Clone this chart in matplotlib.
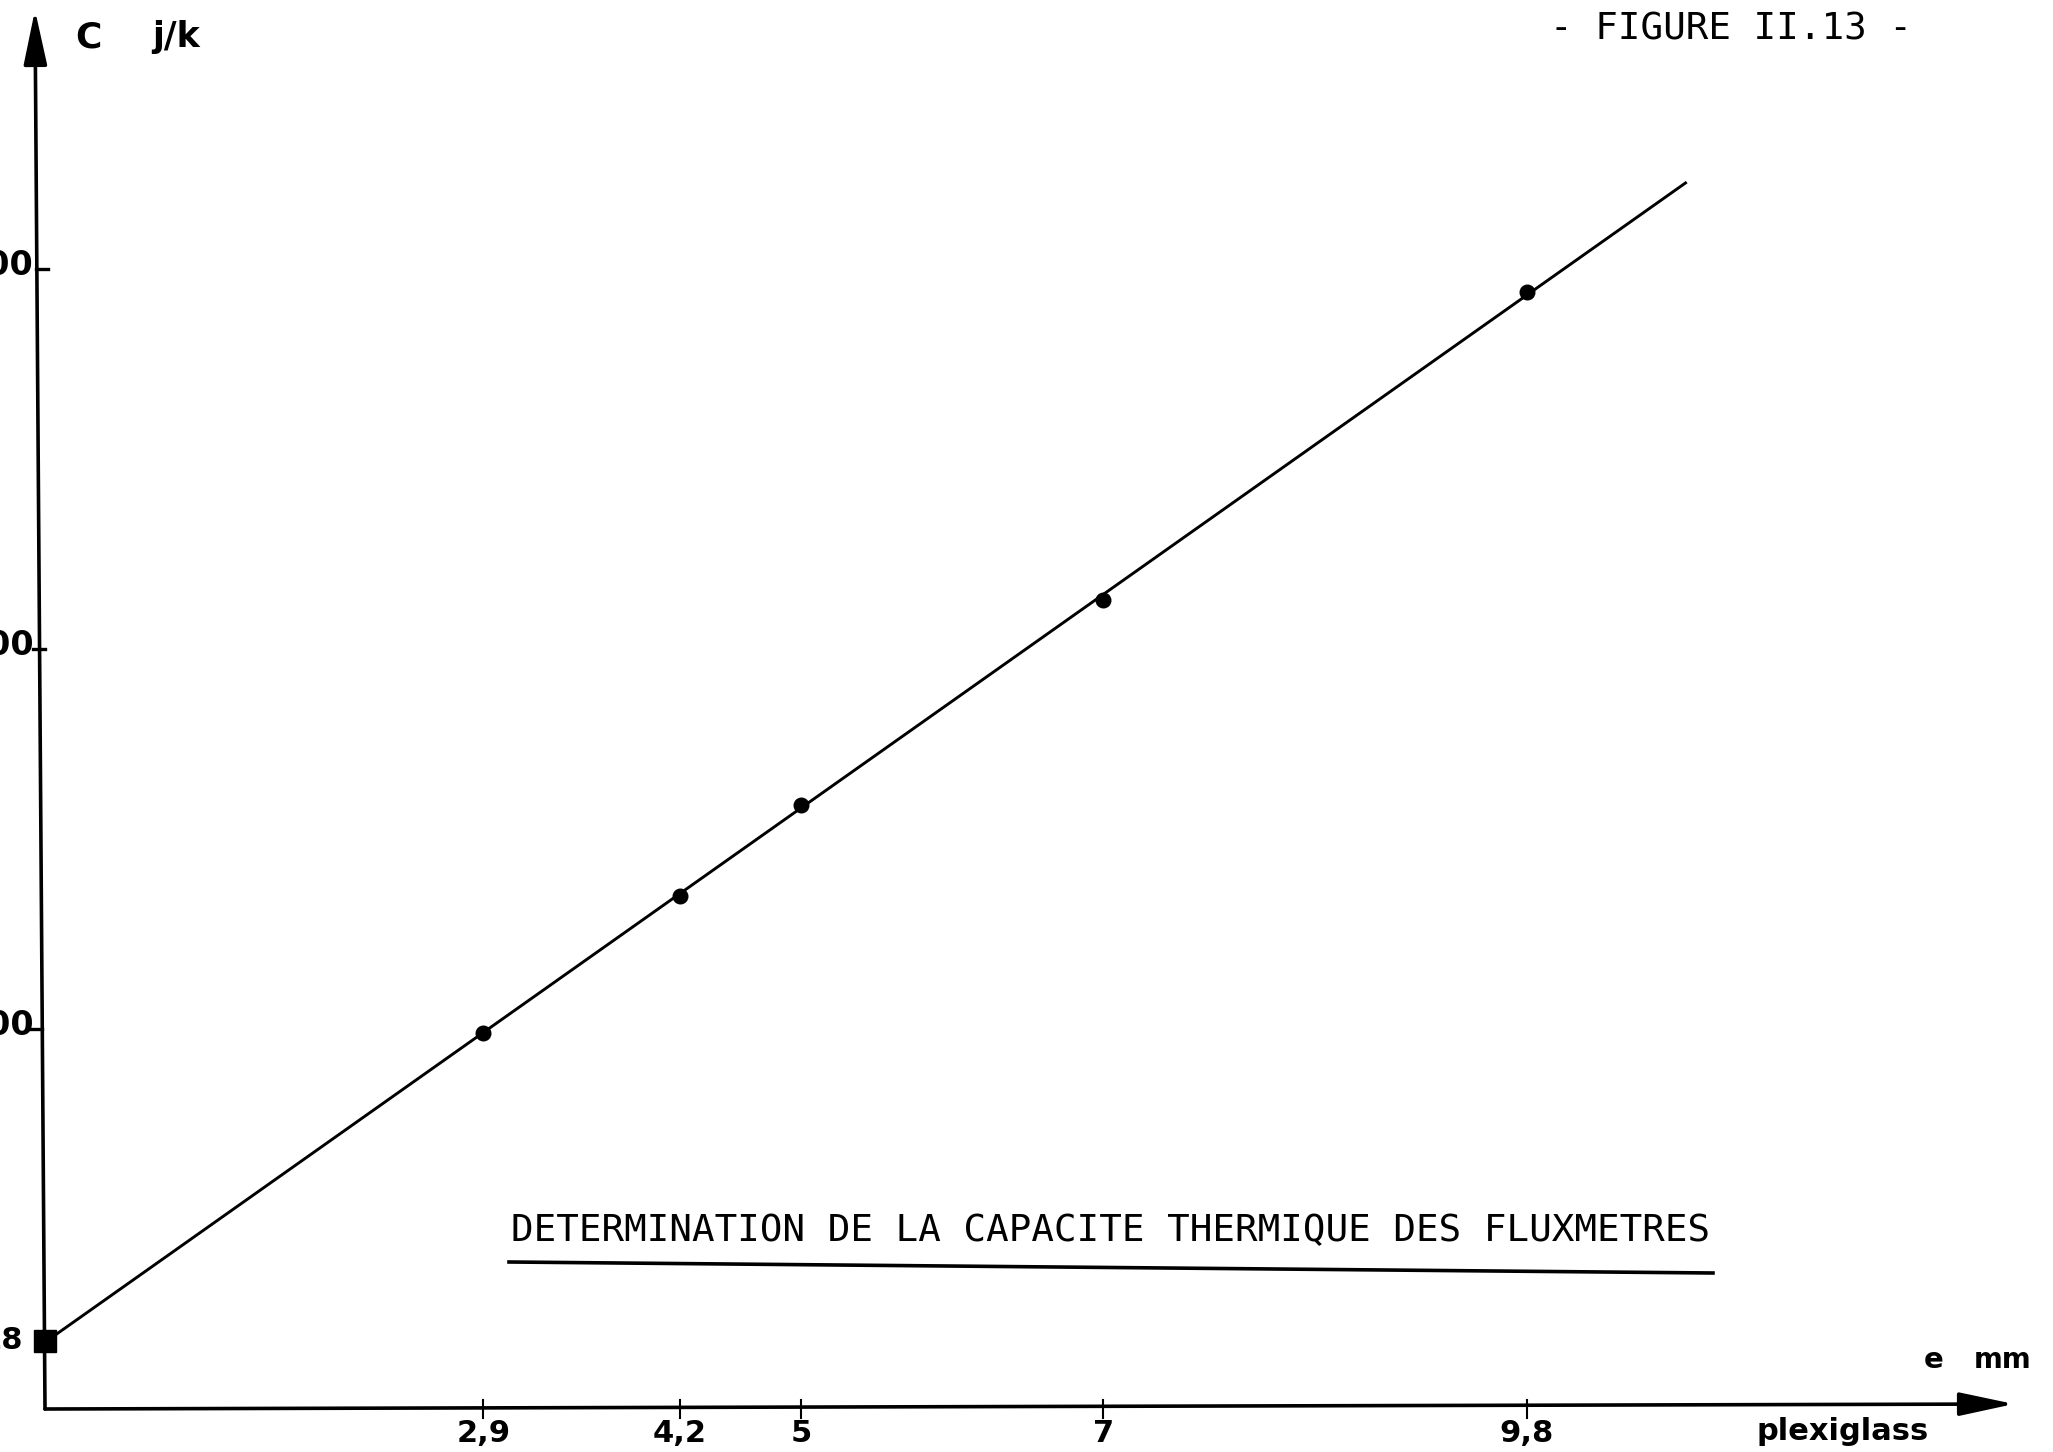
import numpy as np
import matplotlib
matplotlib.use('Agg')
import matplotlib.pyplot as plt

# thermal capacity of the flux meters against plexiglass thickness
thickness_mm = [2.9, 4.2, 5.0, 7.0, 9.8]
capacity_jk = [99, 135, 159, 213, 294]
# value at zero thickness (flux meters alone)
intercept_jk = 18
x_tick_labels = ['2,9', '4,2', '5', '7', '9,8']
y_tick_values = [100, 200, 300]

W, H = 2053, 1452
# pixel position of the origin and scale of each axis
X0, Y0 = 45, 1409
PX_PER_MM = 151.2
PX_PER_JK = 3.8


def px_x(p):
    # pixel column -> mm
    return (p - X0) / PX_PER_MM


def px_y(p):
    # pixel row (from top) -> J/K
    return (Y0 - p) / PX_PER_JK


fig = plt.figure(figsize=(W / 100, H / 100), dpi=100)
ax = fig.add_axes([0, 0, 1, 1])
ax.set_xlim(px_x(0), px_x(W))
ax.set_ylim(px_y(H), px_y(0))
ax.axis('off')

bold = dict(family='DejaVu Sans', fontweight='bold')

# axes drawn as arrows, the vertical one leans a little like on the sheet
arrow = dict(arrowstyle='-|>,head_length=1.4,head_width=0.3', lw=2.6,
             color='black', mutation_scale=24, shrinkA=0, shrinkB=0)
ax.annotate('', xy=(px_x(2014), px_y(1404)), xytext=(0, 0), arrowprops=arrow)
ax.annotate('', xy=(px_x(35), px_y(10)), xytext=(0, 0), arrowprops=arrow)

# ticks on the thickness axis
for xv, lab in zip(thickness_mm, x_tick_labels):
    ax.plot([xv, xv], [-2.4, 2.4], color='black', lw=1.5)
    ax.text(xv, px_y(1434), lab, ha='center', va='center', fontsize=22, **bold)

# ticks on the capacity axis, labels run off the left edge of the sheet
for yv in y_tick_values:
    xa = px_x(45 - (Y0 - yv * PX_PER_JK - 10) * 10 / 1400)
    ax.plot([xa - 0.05, xa + 0.03], [yv, yv], color='black', lw=2.4)
    ax.text(px_x(34), yv + 0.8, str(yv), ha='right', va='center',
            fontsize=24, **bold)
ax.text(px_x(23), intercept_jk, str(intercept_jk), ha='right', va='center',
        fontsize=22, **bold)

# least squares line through the intercept and the measurements
xs = np.array([0] + thickness_mm, dtype=float)
ys = np.array([intercept_jk] + capacity_jk, dtype=float)
slope, offset = np.polyfit(xs, ys, 1)
x_line = np.array([0, 10.85])
ax.plot(x_line, slope * x_line + offset, color='black', lw=2.1)

ax.plot(thickness_mm, capacity_jk, 'o', color='black', markersize=10.5)
ax.plot([0], [intercept_jk], 's', color='black', markersize=16)

# axis names
ax.text(px_x(88), px_y(37), 'C', ha='center', va='center', fontsize=26, **bold)
ax.text(px_x(176), px_y(37), 'j/k', ha='center', va='center', fontsize=25, **bold)
ax.text(px_x(1934), px_y(1360), 'e', ha='center', va='center', fontsize=21, **bold)
ax.text(px_x(2003), px_y(1360), 'mm', ha='center', va='center', fontsize=20, **bold)
ax.text(px_x(1843), px_y(1432), 'plexiglass', ha='center', va='center',
        fontsize=22, **bold)

# figure number and title with its underline
fig.text(1731 / W, 1 - 30 / H, '- FIGURE II.13 -', ha='center', va='center',
         fontsize=27, family='DejaVu Sans Mono')
fig.text(1111 / W, 1 - 1231 / H,
         'DETERMINATION DE LA CAPACITE THERMIQUE DES FLUXMETRES',
         ha='center', va='center', fontsize=27, family='DejaVu Sans Mono')
ax.plot([px_x(509), px_x(1713)], [px_y(1262), px_y(1273)], color='black', lw=2.6)

fig.savefig('out.png', dpi=100, facecolor='white')
